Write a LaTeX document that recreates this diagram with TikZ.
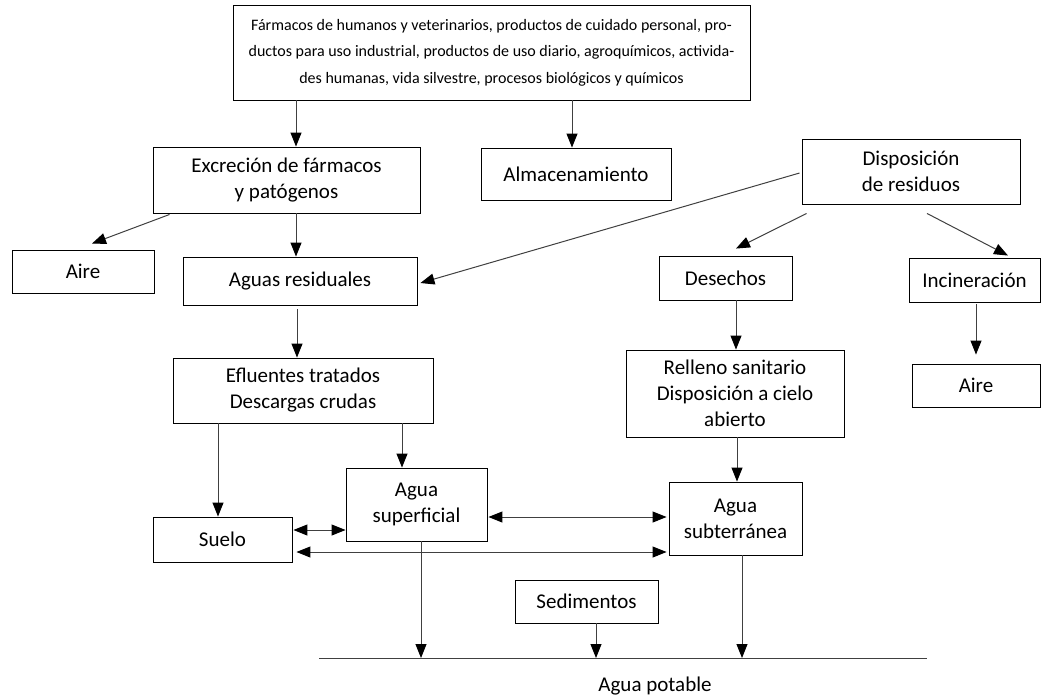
\documentclass[tikz,border=0pt]{standalone}
\usepackage{fontspec}
\setmainfont{Carlito}
\usetikzlibrary{arrows.meta}
\begin{document}
\begin{tikzpicture}[x=1pt,y=-1pt,
  box/.style={draw=black, line width=0.9pt, align=center, inner sep=0pt,
    font=\fontsize{21}{26}\selectfont},
  tip/.tip={Triangle[length=14pt,width=11pt,color=black]},
  arr/.style={draw=black!75, line width=1pt, -tip},
  dbl/.style={draw=black!75, line width=1pt, tip-tip},
  ln/.style={draw=black!75, line width=1pt}]
\useasboundingbox (0,0) rectangle (1042,697);

% boxes
\node[box, minimum width=517, minimum height=95, font=\fontsize{16}{26.5}\selectfont] (src) at (491.5,52.5)
  {Fármacos de humanos y veterinarios, productos de cuidado personal, pro-\\
   ductos para uso industrial, productos de uso diario, agroquímicos, activida-\\
   des humanas, vida silvestre, procesos biológicos y químicos};
\node[box, minimum width=267, minimum height=66] (exc) at (286.5,180) {Excreción de fármacos\\y patógenos};
\node[box, minimum width=190, minimum height=52] (alm) at (576,174) {Almacenamiento};
\node[box, minimum width=218, minimum height=65] (disp) at (911,171.5) {Disposición\\de residuos};
\node[box, minimum width=142, minimum height=43] (aireL) at (83,271.5) {Aire};
\node[box, minimum width=234, minimum height=48] (aguas) at (300,281) {Aguas residuales};
\node[box, minimum width=133, minimum height=44] (des) at (725.5,278) {Desechos};
\node[box, minimum width=131, minimum height=44] (inc) at (974.5,280) {Incineración};
\node[box, minimum width=218, minimum height=87] (rell) at (735,393.5) {Relleno sanitario\\Disposición a cielo\\abierto};
\node[box, minimum width=128, minimum height=43] (aireR) at (976,385.5) {Aire};
\node[box, minimum width=260, minimum height=65] (eflu) at (303,390.5) {Efluentes tratados\\Descargas crudas};
\node[box, minimum width=141, minimum height=73] (sup) at (416.5,504.5) {Agua\\superficial};
\node[box, minimum width=139, minimum height=45] (suelo) at (222.5,539.5) {Suelo};
\node[box, minimum width=133, minimum height=73] (sub) at (735.5,518.5) {Agua\\subterránea};
\node[box, minimum width=143, minimum height=43] (sed) at (586.5,601.5) {Sedimentos};
\node[font=\fontsize{21}{26}\selectfont, inner sep=0pt] (potable) at (655,686) {Agua potable};

% drinking-water line
\coordinate (potL) at (319,658);
\coordinate (potR) at (927,658);
\draw[ln] (potL) -- (potR);

% columns and rows of the straight connectors
\coordinate (xExc) at (296,0);
\coordinate (xAlm) at (572,0);
\coordinate (xEflu) at (297,0);
\coordinate (xDes) at (736,0);
\coordinate (xInc) at (976,0);
\coordinate (xSue) at (218,0);
\coordinate (xSupIn) at (402,0);
\coordinate (xSubIn) at (737,0);
\coordinate (xSupOut) at (421,0);
\coordinate (xSed) at (596,0);
\coordinate (xSubOut) at (742,0);
\coordinate (yA) at (0,530);
\coordinate (yB) at (0,517);
\coordinate (yC) at (0,552);

% vertical connectors
\draw[arr] (src.south -| xExc) -- (exc.north -| xExc);
\draw[arr] (src.south -| xAlm) -- (alm.north -| xAlm);
\draw[arr] (exc.south -| xExc) -- (aguas.north -| xExc);
\draw[arr, shorten <=4pt] (aguas.south -| xEflu) -- (eflu.north -| xEflu);
\draw[arr] (des.south -| xDes) -- (rell.north -| xDes);
\draw[arr, shorten <=2pt, shorten >=9pt] (inc.south -| xInc) -- (aireR.north -| xInc);
\draw[arr] (eflu.south -| xSue) -- (suelo.north -| xSue);
\draw[arr] (eflu.south -| xSupIn) -- (sup.north -| xSupIn);
\draw[arr] (rell.south -| xSubIn) -- (sub.north -| xSubIn);
\draw[arr] (sup.south -| xSupOut) -- (potL -| xSupOut);
\draw[arr] (sed.south -| xSed) -- (potL -| xSed);
\draw[arr] (sub.south -| xSubOut) -- (potL -| xSubOut);

% diagonal connectors
\draw[arr] ([shift={(17,1)}]exc.south west) -- ([shift={(9,-6)}]aireL.north);
\draw[arr] ([shift={(-2,1.5)}]disp.west) -- ([shift={(3,2)}]aguas.east);
\draw[arr] ([shift={(5,9)}]disp.south west) -- ([shift={(10.5,-7)}]des.north);
\draw[arr] ([shift={(16,9)}]disp.south) -- ([shift={(33.5,-2)}]inc.north);

% exchanges between soil and water bodies
\draw[dbl, shorten <=1pt] (suelo.east |- yA) -- (sup.west |- yA);
\draw[dbl, shorten <=1pt, shorten >=2pt] (sup.east |- yB) -- (sub.west |- yB);
\draw[dbl, shorten <=4pt, shorten >=2pt] (suelo.east |- yC) -- (sub.west |- yC);
\end{tikzpicture}
\end{document}
